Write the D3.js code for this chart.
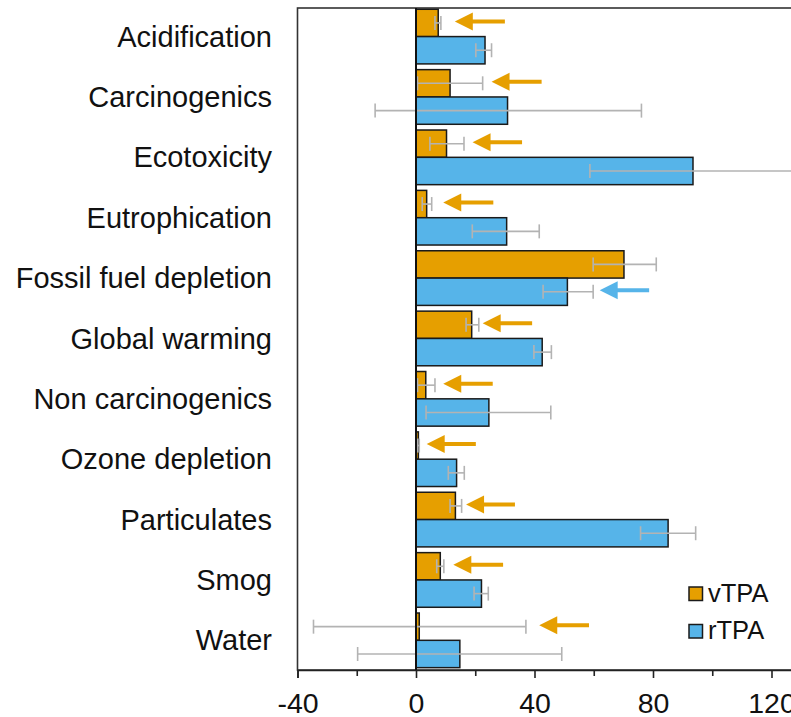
<!DOCTYPE html>
<meta charset="utf-8">
<html>
<head>
<title>TPA impact categories</title>
<style>
    body {
        margin: 0;
        background: #fff;
        font-family: "Liberation Sans", Arial, sans-serif;
    }
</style>
<script src="https://d3js.org/d3.v7.min.js"></script>
</head>
<body>
<div id="chart"></div>

<script>

// ##### data #####
var categories = ["Acidification", "Carcinogenics", "Ecotoxicity", "Eutrophication",
    "Fossil fuel depletion", "Global warming", "Non carcinogenics", "Ozone depletion",
    "Particulates", "Smog", "Water"];

var vTPA  = [7.5, 11.5, 10.3, 3.6, 70.2, 18.8, 3.3, 0.8, 13.3, 8.2, 1.1];
var vLow  = [6.4, 0.5, 4.7, 2.1, 59.8, 16.9, 0.5, 0.5, 11.5, 7.0, -34.6];
var vHigh = [8.4, 22.5, 16.2, 5.3, 81.1, 21.2, 6.4, 1.1, 15.4, 9.4, 37.1];

var rTPA  = [23.3, 30.9, 93.5, 30.6, 51.1, 42.6, 24.6, 13.7, 85.1, 22.1, 14.8];
var rLow  = [20.2, -13.8, 58.7, 19.0, 42.9, 39.8, 3.4, 10.9, 75.8, 19.6, -19.7];
var rHigh = [25.5, 76.1, 128.3, 41.6, 59.8, 45.7, 45.5, 16.3, 94.4, 24.4, 49.2];

// arrows next to the bars (which series, tip and tail in axis units)
var arrowSeries = ["vTPA", "vTPA", "vTPA", "vTPA", "rTPA", "vTPA", "vTPA", "vTPA", "vTPA", "vTPA", "vTPA"];
var arrowTip  = [13.1, 25.5, 19.1, 9.2, 62.0, 22.5, 9.2, 3.6, 16.9, 12.6, 41.6];
var arrowTail = [30.0, 42.4, 35.8, 26.1, 78.7, 39.2, 25.9, 20.2, 33.4, 29.4, 58.4];

var series = ["vTPA", "rTPA"];
var majorTicks = [-40, 0, 40, 80, 120];
var minorTicks = [-20, 20, 60, 100];

var colors = {vTPA: "#E69F00", rTPA: "#56B4E9"};

// build rows
var rows = categories.map(function(c, i) {
  return {
    cat: c,
    vTPA: {value: vTPA[i], lo: vLow[i], hi: vHigh[i]},
    rTPA: {value: rTPA[i], lo: rLow[i], hi: rHigh[i]},
    arrow: {series: arrowSeries[i], tip: arrowTip[i], tail: arrowTail[i]}
  };
});

// ##### layout #####
var W = 791, H = 717;
var plotLeft = 297.5, plotTop = 8, plotBottom = 670;

var x = d3.scaleLinear().domain([-40, 140]).range([plotLeft, plotLeft + 180 * 2.9625]);
var y = d3.scaleBand().domain(categories).range([plotTop, plotBottom])
    .paddingInner(0.095).paddingOuter(0.03).align(0.35);
var ySub = d3.scaleBand().domain(series).range([0, y.bandwidth()]);

var svg = d3.select("#chart").append("svg")
    .attr("width", W)
    .attr("height", H);

// frame (right side falls outside the picture)
svg.append("rect")
    .attr("x", plotLeft)
    .attr("y", plotTop)
    .attr("width", x(140) - plotLeft)
    .attr("height", plotBottom - plotTop)
    .attr("fill", "none")
    .attr("stroke", "#333")
    .attr("stroke-width", 1.6);

var groups = svg.selectAll(".grp")
    .data(rows)
  .enter().append("g")
    .attr("class", "grp")
    .attr("transform", function(d) { return "translate(0," + y(d.cat) + ")"; });

// bars
groups.selectAll("rect.bar")
    .data(function(d) { return series.map(function(s) { return {s: s, v: d[s]}; }); })
  .enter().append("rect")
    .attr("class", "bar")
    .attr("x", function(d) { return x(Math.min(0, d.v.value)); })
    .attr("y", function(d) { return ySub(d.s); })
    .attr("width", function(d) { return Math.abs(x(d.v.value) - x(0)); })
    .attr("height", ySub.bandwidth())
    .attr("fill", function(d) { return colors[d.s]; })
    .attr("stroke", "#1a1a1a")
    .attr("stroke-width", 1.5);

// error bars
var err = groups.selectAll("g.err")
    .data(function(d) { return series.map(function(s) { return {s: s, v: d[s]}; }); })
  .enter().append("g")
    .attr("class", "err")
    .attr("stroke", "#b3b3b3")
    .attr("stroke-width", 1.6)
    .attr("transform", function(d) { return "translate(0," + (ySub(d.s) + ySub.bandwidth() / 2) + ")"; });

err.append("line")
    .attr("x1", function(d) { return x(d.v.lo); })
    .attr("x2", function(d) { return x(d.v.hi); });
err.append("line")
    .attr("x1", function(d) { return x(d.v.lo); })
    .attr("x2", function(d) { return x(d.v.lo); })
    .attr("y1", -7).attr("y2", 7);
err.append("line")
    .attr("x1", function(d) { return x(d.v.hi); })
    .attr("x2", function(d) { return x(d.v.hi); })
    .attr("y1", -7).attr("y2", 7);

// arrows
var arr = groups.append("g")
    .attr("transform", function(d) {
      return "translate(0," + (ySub(d.arrow.series) + ySub.bandwidth() / 2 - 1.5) + ")";
    });
arr.append("line")
    .attr("x1", function(d) { return x(d.arrow.tip) + 10; })
    .attr("x2", function(d) { return x(d.arrow.tail); })
    .attr("stroke", function(d) { return colors[d.arrow.series]; })
    .attr("stroke-width", 4);
arr.append("path")
    .attr("d", function(d) {
      var t = x(d.arrow.tip);
      return "M" + t + ",0L" + (t + 18) + ",-9L" + (t + 18) + ",9Z";
    })
    .attr("fill", function(d) { return colors[d.arrow.series]; });

// zero line
svg.append("line")
    .attr("x1", x(0)).attr("x2", x(0))
    .attr("y1", plotTop).attr("y2", plotBottom)
    .attr("stroke", "#111")
    .attr("stroke-width", 2);

// category labels
svg.append("g").selectAll("text")
    .data(categories)
  .enter().append("text")
    .attr("x", 272)
    .attr("y", function(d) { return y(d) + y.bandwidth() / 2; })
    .attr("dy", "0.35em")
    .attr("text-anchor", "end")
    .style("font-size", "29px")
    .attr("fill", "#111")
    .text(function(d) { return d; });

// x axis
var xAxis = svg.append("g")
    .attr("transform", "translate(0," + plotBottom + ")")
    .call(d3.axisBottom(x).tickValues(majorTicks).tickSize(8).tickPadding(15)
      .tickFormat(d3.format("d")));
xAxis.select(".domain").attr("stroke", "#222").attr("stroke-width", 1.6);
xAxis.selectAll(".tick line").attr("stroke", "#222").attr("stroke-width", 1.6);
xAxis.selectAll("text")
    .style("font-size", "28.5px")
    .style("font-family", "'Liberation Sans', Arial, sans-serif")
    .attr("fill", "#111")
    .text(function(d) { return d < 0 ? "-" + Math.abs(d) : d; });

var xMinor = svg.append("g")
    .attr("transform", "translate(0," + plotBottom + ")")
    .call(d3.axisBottom(x).tickValues(minorTicks).tickSize(6).tickFormat(""));
xMinor.select(".domain").remove();
xMinor.selectAll(".tick line").attr("stroke", "#222").attr("stroke-width", 1.6);

// legend
var legend = svg.append("g").selectAll("g")
    .data(series)
  .enter().append("g")
    .attr("transform", function(d, i) { return "translate(689," + (587 + i * 37.5) + ")"; });
legend.append("rect")
    .attr("width", 13.5)
    .attr("height", 13.5)
    .attr("fill", function(d) { return colors[d]; })
    .attr("stroke", "#1a1a1a")
    .attr("stroke-width", 1.5);
legend.append("text")
    .attr("x", 19)
    .attr("y", 14.5)
    .style("font-size", "25.5px")
    .attr("fill", "#111")
    .text(function(d) { return d; });

</script>
</body>
</html>
